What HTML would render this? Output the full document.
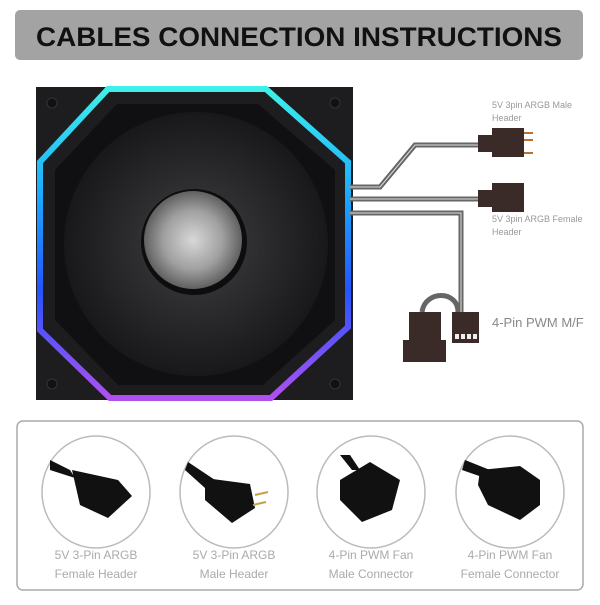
<!DOCTYPE html>
<html><head><meta charset="utf-8"><style>
body{margin:0;background:#fff;width:600px;height:600px;overflow:hidden;font-family:"Liberation Sans",sans-serif}
</style></head><body>
<svg width="600" height="600" viewBox="0 0 600 600" xmlns="http://www.w3.org/2000/svg">
<defs>
<linearGradient id="ring" x1="0" y1="0" x2="0" y2="1">
<stop offset="0" stop-color="#3ff0e8"/><stop offset="0.35" stop-color="#1aa8ff"/><stop offset="0.65" stop-color="#2255ff"/><stop offset="1" stop-color="#b050f0"/></linearGradient>
<radialGradient id="hub" cx="0.5" cy="0.5" r="0.5"><stop offset="0" stop-color="#d8d8d8"/><stop offset="0.6" stop-color="#a0a0a0"/><stop offset="1" stop-color="#606060"/></radialGradient>
<radialGradient id="blade" cx="0.5" cy="0.5" r="0.5"><stop offset="0.3" stop-color="#343437"/><stop offset="1" stop-color="#18181a"/></radialGradient>
</defs>
<rect x="15" y="10" width="568" height="50" rx="5" fill="#a3a3a3"/>
<text x="299" y="46" text-anchor="middle" font-size="27" font-weight="bold" fill="#111" textLength="526" lengthAdjust="spacingAndGlyphs">CABLES CONNECTION INSTRUCTIONS</text>

<rect x="36" y="87" width="317" height="313" fill="#1d1d1f"/>
<polygon points="108,89 266,89 348,162 348,327 271,398 110,398 40,330 40,162" fill="none" stroke="url(#ring)" stroke-width="6"/>
<polygon points="117,104 258,104 335,170 335,320 263,385 118,385 55,320 55,170" fill="#101012"/>
<circle cx="196" cy="244" r="132" fill="url(#blade)"/>
<circle cx="194" cy="242" r="53" fill="#0d0d0d"/>
<circle cx="193" cy="240" r="49" fill="url(#hub)"/>
<g fill="#111" stroke="#333"><circle cx="52" cy="103" r="5"/><circle cx="335" cy="103" r="5"/><circle cx="52" cy="384" r="5"/><circle cx="335" cy="384" r="5"/></g>

<g fill="none" stroke="#666" stroke-width="5"><path d="M350,187 H380 L415,145 H480"/><path d="M350,199 H480"/><path d="M350,213 H461 V312"/><path d="M458,312 C458,290 425,290 422,312"/></g>
<g fill="none" stroke="#ddd" stroke-width="1"><path d="M350,187 H380 L415,145 H480"/><path d="M350,199 H480"/><path d="M350,213 H461 V312"/></g>
<rect x="478" y="135" width="15" height="17" fill="#3a2a28"/><rect x="492" y="128" width="32" height="29" fill="#3a2a28"/>
<g stroke="#b87333" stroke-width="2"><line x1="524" y1="133" x2="533" y2="133"/><line x1="524" y1="140" x2="533" y2="140"/><line x1="524" y1="153" x2="533" y2="153"/></g>
<rect x="478" y="190" width="15" height="17" fill="#3a2a28"/><rect x="492" y="183" width="32" height="29" fill="#3a2a28"/>
<rect x="452" y="312" width="27" height="31" fill="#3a2a28"/>
<g fill="#eee"><rect x="455" y="334" width="4" height="5"/><rect x="461" y="334" width="4" height="5"/><rect x="467" y="334" width="4" height="5"/><rect x="473" y="334" width="4" height="5"/></g>
<rect x="409" y="312" width="32" height="30" fill="#3a2a28"/><rect x="403" y="340" width="43" height="22" fill="#3a2a28"/>
<g font-size="9" fill="#999"><text x="492" y="108">5V 3pin ARGB Male</text><text x="492" y="121">Header</text><text x="492" y="222">5V 3pin ARGB Female</text><text x="492" y="235">Header</text></g>
<text x="492" y="327" font-size="13" fill="#888">4-Pin PWM M/F</text>

<rect x="17" y="421" width="566" height="169" rx="6" fill="#fff" stroke="#aaa" stroke-width="1.5"/>
<g fill="#fff" stroke="#bbb" stroke-width="1.5"><ellipse cx="96" cy="492" rx="54" ry="56"/><ellipse cx="234" cy="492" rx="54" ry="56"/><ellipse cx="371" cy="492" rx="54" ry="56"/><ellipse cx="510" cy="492" rx="54" ry="56"/></g>
<g fill="#111">
<path d="M50,470 L75,478 L70,470 L50,460Z"/><path d="M72,470 L118,480 L132,496 L108,518 L80,505 Z"/>
<path d="M188,462 L215,480 L205,488 L185,470Z"/><path d="M205,478 L250,484 L255,508 L232,523 L205,500Z"/>
<path d="M340,455 L352,470 L360,470 L350,455Z"/><path d="M340,480 L370,462 L400,480 L392,510 L362,522 L340,500Z"/>
<path d="M465,460 L490,470 L485,478 L462,470Z"/><path d="M480,470 L520,466 L540,480 L540,505 L520,520 L488,505 L478,485Z"/>
</g>
<g stroke="#c9a040" stroke-width="2"><line x1="255" y1="495" x2="268" y2="492"/><line x1="253" y1="505" x2="266" y2="502"/></g>
<g font-size="12" fill="#aaa" text-anchor="middle">
<text x="96" y="559">5V 3-Pin ARGB</text><text x="96" y="578">Female Header</text>
<text x="234" y="559">5V 3-Pin ARGB</text><text x="234" y="578">Male Header</text>
<text x="371" y="559">4-Pin PWM Fan</text><text x="371" y="578">Male Connector</text>
<text x="510" y="559">4-Pin PWM Fan</text><text x="510" y="578">Female Connector</text>
</g>
</svg>
</body></html>
